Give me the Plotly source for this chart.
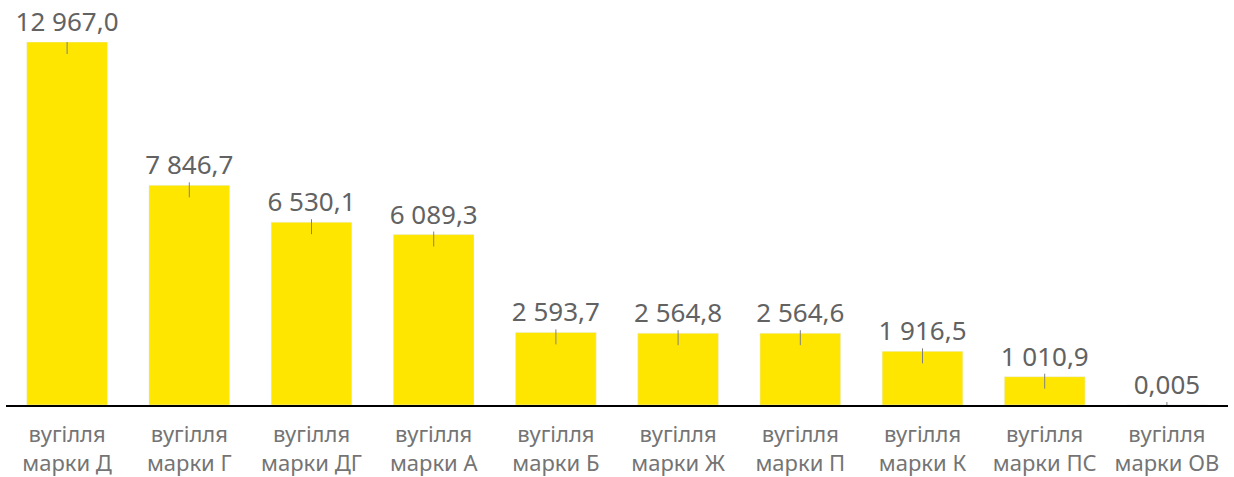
import plotly.graph_objects as go

grades = ["Д", "Г", "ДГ", "А", "Б", "Ж", "П", "К", "ПС", "ОВ"]
volumes = [12967.0, 7846.7, 6530.1, 6089.3, 2593.7, 2564.8, 2564.6, 1916.5, 1010.9, 0.005]
value_labels = ["12 967,0", "7 846,7", "6 530,1", "6 089,3", "2 593,7",
                "2 564,8", "2 564,6", "1 916,5", "1 010,9", "0,005"]

categories = ["вугілля<br>марки " + g for g in grades]

W, H = 1234, 477
top, bottom = 42, 72
ymax = max(volumes)
per_px = ymax / (H - top - bottom)  # data units per pixel

fig = go.Figure()
fig.add_trace(go.Bar(
    x=categories, y=volumes,
    marker_color="#FFE600",
    text=value_labels, textposition="outside", constraintext="none",
    textfont=dict(size=26, color="#626262", family="Noto Sans"),
    cliponaxis=False,
))

# small leader ticks crossing the top edge of each bar (stop at the baseline)
fig.add_trace(go.Scatter(
    x=categories, y=volumes, mode="markers",
    marker=dict(size=1, opacity=0),
    error_y=dict(type="data", symmetric=False,
                 array=[3 * per_px] * len(volumes),
                 arrayminus=[min(v, 12 * per_px) for v in volumes],
                 width=0, thickness=1, color="#808080"),
    cliponaxis=False, hoverinfo="skip",
))

fig.update_layout(
    width=W, height=H,
    margin=dict(l=6, r=6, t=top, b=bottom),
    plot_bgcolor="white", paper_bgcolor="white",
    showlegend=False, bargap=0.34,
    font=dict(family="Noto Sans", color="#747474"),
)
fig.update_xaxes(showline=True, linecolor="black", linewidth=2, automargin=False,
                 range=[-0.5, len(categories) - 0.5],
                 tickfont=dict(size=22, color="#747474"), ticks="",
                 ticklabelstandoff=9)
fig.update_yaxes(visible=False, range=[0, ymax], showgrid=False,
                 automargin=False)

fig.write_html("out.html", config={"displayModeBar": False},
               post_script="document.body.style.margin='0';")
